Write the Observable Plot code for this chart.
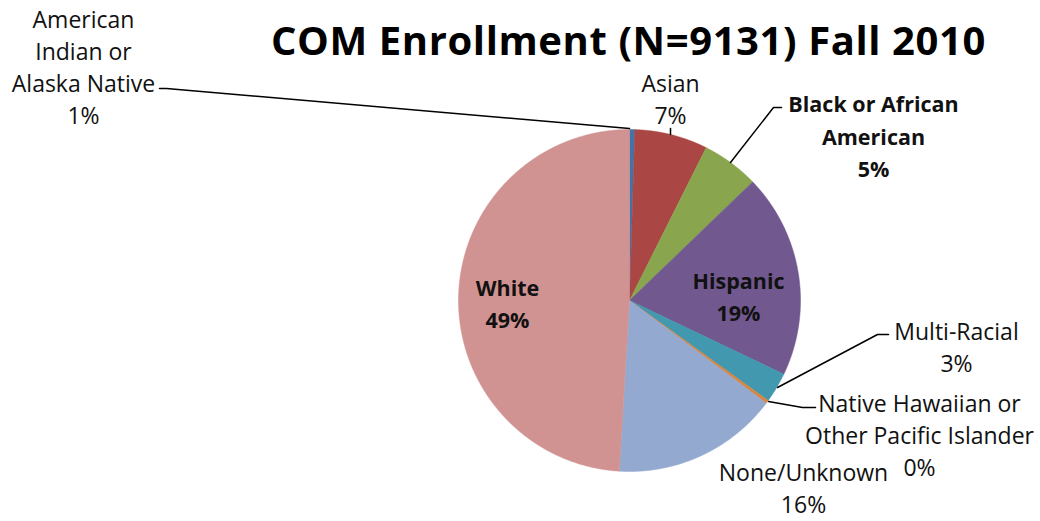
<!DOCTYPE html>
<html>
<head>
<meta charset="utf-8">
<script src="https://cdn.jsdelivr.net/npm/d3@7"></script>
<script src="https://cdn.jsdelivr.net/npm/@observablehq/plot@0.6"></script>
<style>
  html, body { margin: 0; padding: 0; background: #fff; }
  #chart svg { display: block; }
</style>
</head>
<body>
<div id="chart"></div>
<script>
// ---- data ----
const title = "COM Enrollment (N=9131) Fall 2010";
const categories = [
  "American Indian or Alaska Native",
  "Asian",
  "Black or African American",
  "Hispanic",
  "Multi-Racial",
  "Native Hawaiian or Other Pacific Islander",
  "None/Unknown",
  "White"
];
const shares = [0.5, 6.9, 5.4, 19.3, 2.85, 0.3, 15.7, 49.05];
const pctLabels = ["1%", "7%", "5%", "19%", "3%", "0%", "16%", "49%"];
const labelLines = [
  "American\nIndian or\nAlaska Native",
  "Asian",
  "Black or African\nAmerican",
  "Hispanic",
  "Multi-Racial",
  "Native Hawaiian or\nOther Pacific Islander",
  "None/Unknown",
  "White"
];
const colors = ["#4572A7", "#AA4643", "#89A54E", "#71588F", "#4198AF", "#DB843D", "#93A9CF", "#D19392"];

// ---- layout ----
const W = 1040, H = 521;
const cx = 629, cy = 300, R = 171;
const labelLayout = {
  "American Indian or Alaska Native": {x: 83, y: 65, bold: false},
  "Asian": {x: 670, y: 97, bold: false},
  "Black or African American": {x: 873, y: 134, bold: true},
  "Hispanic": {x: 738, y: 294, bold: true},
  "Multi-Racial": {x: 956, y: 345, bold: false},
  "Native Hawaiian or Other Pacific Islander": {x: 919, y: 433, bold: false},
  "None/Unknown": {x: 803, y: 486, bold: false},
  "White": {x: 507, y: 301, bold: true}
};
const leaderLayout = {
  "American Indian or Alaska Native": [[159, 88], [166, 88], [629, 128]],
  "Asian": [[670, 128], [670, 134]],
  "Black or African American": [[781, 107], [773, 107], [730, 162]],
  "Multi-Racial": [[888, 334], [877, 334], [777, 387]],
  "Native Hawaiian or Other Pacific Islander": [[768, 401], [802, 407], [815, 407]]
};

const rows = categories.map((name, i) => ({name, share: shares[i], pct: pctLabels[i], label: labelLines[i]}));
const arcs = d3.pie().sort(null).value(d => d.share)(rows);

const wedgePts = [];
for (const a of arcs) {
  const n = Math.max(2, Math.ceil((a.endAngle - a.startAngle) / 0.005));
  wedgePts.push({name: a.data.name, x: cx, y: cy});
  for (let k = 0; k <= n; k++) {
    const t = a.startAngle + (a.endAngle - a.startAngle) * k / n;
    wedgePts.push({name: a.data.name, x: cx + R * Math.sin(t), y: cy - R * Math.cos(t)});
  }
  wedgePts.push({name: a.data.name, x: cx, y: cy});
}

const labelRows = rows.map(r => ({
  name: r.name,
  text: r.label + "\n" + r.pct,
  x: labelLayout[r.name].x,
  y: labelLayout[r.name].y,
  bold: labelLayout[r.name].bold
}));

const leaderPts = [];
for (const [name, pts] of Object.entries(leaderLayout)) {
  pts.forEach(([x, y]) => leaderPts.push({name, x, y}));
}

const chart = Plot.plot({
  width: W,
  height: H,
  margin: 0,
  style: {fontFamily: "'Open Sans', sans-serif", background: "#fff"},
  x: {domain: [0, W], range: [0, W], axis: null},
  y: {domain: [0, H], range: [0, H], axis: null},
  color: {domain: categories, range: colors},
  marks: [
    Plot.line(wedgePts, {x: "x", y: "y", z: "name", fill: "name", stroke: "name", strokeWidth: 0.5, curve: "linear"}),
    Plot.line(leaderPts, {x: "x", y: "y", z: "name", stroke: "black", strokeWidth: 1.5, curve: "linear"}),
    Plot.text(labelRows.filter(d => !d.bold), {x: "x", y: "y", text: "text", fontSize: 23, lineHeight: 1.39, fill: "#111"}),
    Plot.text(labelRows.filter(d => d.bold), {x: "x", y: "y", text: "text", fontSize: 21.5, fontWeight: "bold", lineHeight: 1.51, fill: "#111"}),
    Plot.text([title], {x: () => 628, y: () => 42, text: d => d, fontSize: 40, fontWeight: "bold", fill: "#000"})
  ]
});
// slight tracking on the title to match the reference width
d3.select(chart).selectAll("text").filter(function () { return this.textContent === title; })
  .style("letter-spacing", "0.6px");
document.getElementById("chart").appendChild(chart);
</script>
</body>
</html>
